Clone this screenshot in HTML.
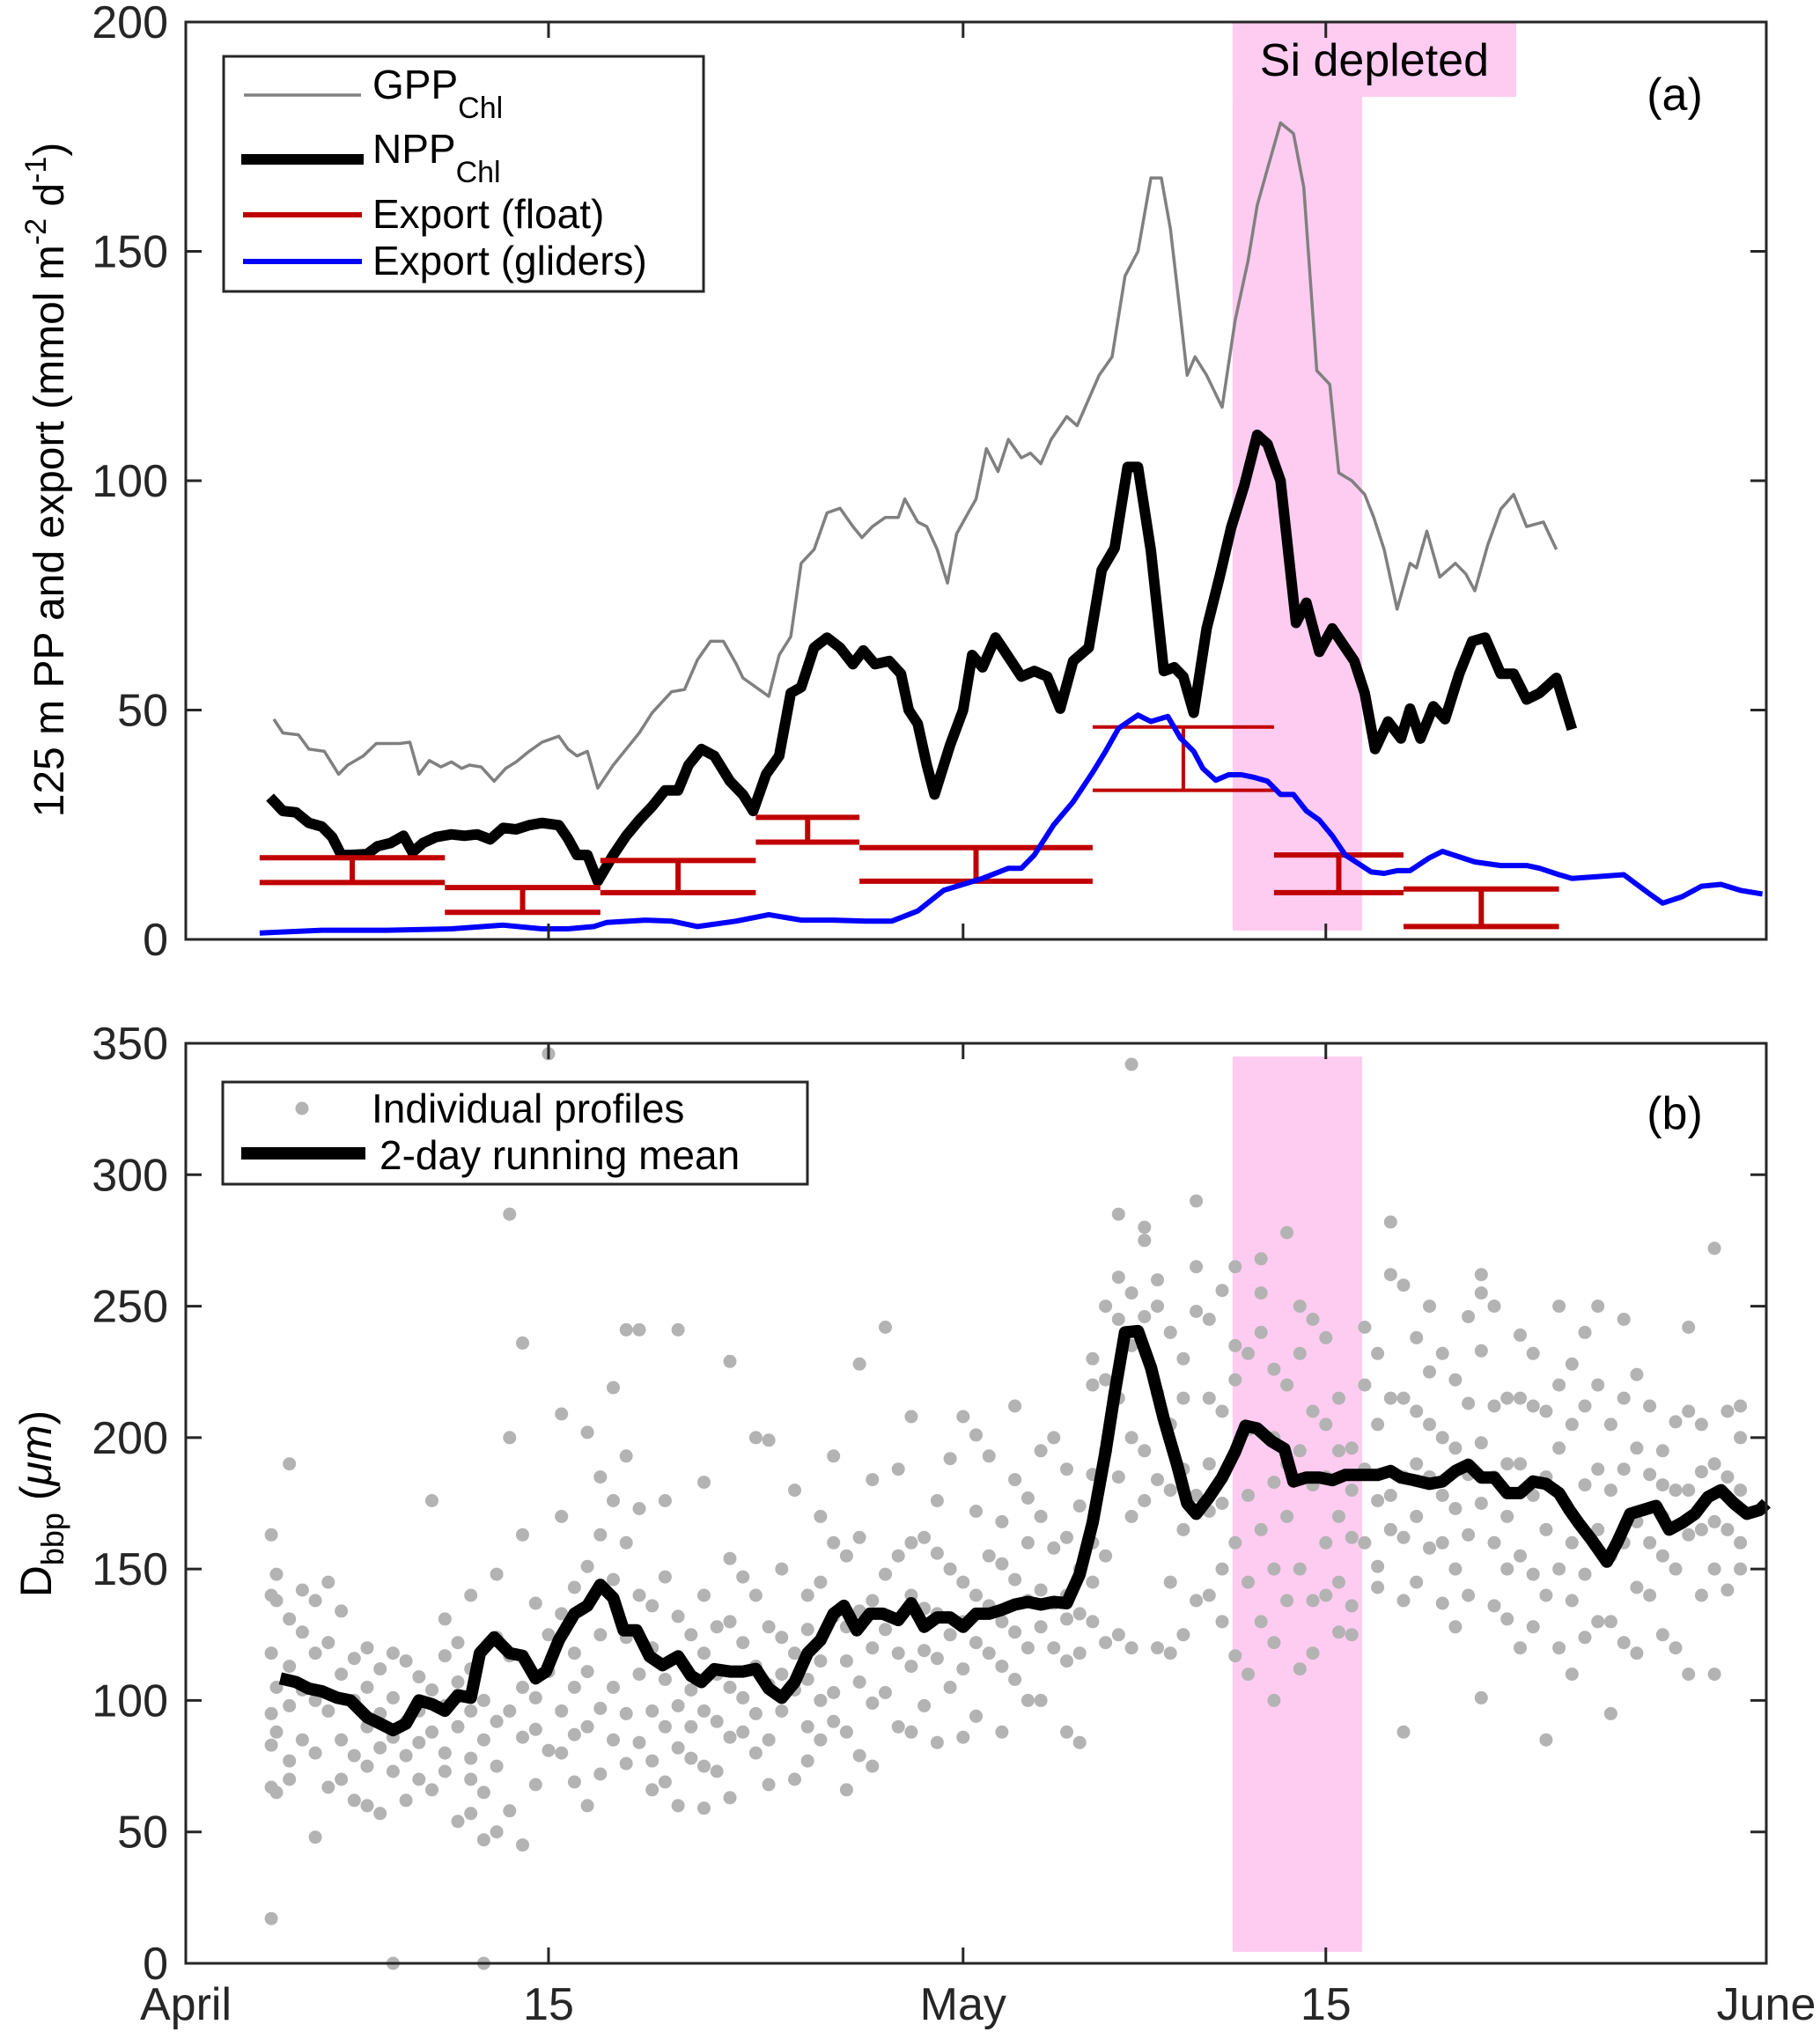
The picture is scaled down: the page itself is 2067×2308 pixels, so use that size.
<!DOCTYPE html>
<html><head><meta charset="utf-8"><style>
html,body{margin:0;padding:0;background:#fff;}
svg{display:block;font-family:"Liberation Sans",sans-serif;}
</style></head><body>
<svg id="chart" width="2067" height="2308" viewBox="0 0 2067 2308" xmlns="http://www.w3.org/2000/svg">
<rect x="0" y="0" width="2067" height="2308" fill="#fff"/>
<g id="top-bg"></g>
<g id="top-marks"></g>
<g id="bot-bg"></g>
<g id="bot-marks"></g>
<g id="axes"></g>
<text transform="translate(72,545) rotate(-90)" text-anchor="middle" font-size="48">125 m PP and export (mmol m<tspan font-size="34" dy="-20">-2</tspan><tspan dy="20"> d</tspan><tspan font-size="34" dy="-20">-1</tspan><tspan dy="20">)</tspan></text>
<text transform="translate(58,1708) rotate(-90)" text-anchor="middle" font-size="50">D<tspan font-size="36" dy="14">bbp</tspan><tspan dy="-14"> (</tspan><tspan font-style="italic">μm</tspan>)</text>
<text x="1902" y="125" text-anchor="middle" font-size="52">(a)</text>
<text x="1902" y="1282" text-anchor="middle" font-size="52">(b)</text>
<g>
<rect x="254" y="64" width="545" height="267" fill="#fff" stroke="#262626" stroke-width="3"/>
<line x1="277" y1="108" x2="410" y2="108" stroke="#808080" stroke-width="3.5"/>
<text x="423" y="112" font-size="46">GPP<tspan font-size="34" dy="22">Chl</tspan></text>
<line x1="274" y1="181" x2="413" y2="181" stroke="#000" stroke-width="12"/>
<text x="423" y="185" font-size="46">NPP<tspan font-size="34" dy="22">Chl</tspan></text>
<line x1="276" y1="244" x2="411" y2="244" stroke="#c00000" stroke-width="6"/>
<text x="423" y="259" font-size="46">Export (float)</text>
<line x1="276" y1="297" x2="411" y2="297" stroke="#0000ff" stroke-width="6"/>
<text x="423" y="312" font-size="46">Export (gliders)</text>
</g>
<g>
<rect x="253" y="1229" width="664" height="116" fill="#fff" stroke="#262626" stroke-width="3"/>
<circle cx="343" cy="1259" r="7.5" fill="#b3b3b3"/>
<text x="422" y="1275" font-size="46">Individual profiles</text>
<line x1="274" y1="1310" x2="415" y2="1310" stroke="#000" stroke-width="14"/>
<text x="431" y="1328" font-size="46">2-day running mean</text>
</g>
</svg>
<script>
// ---- data ----
const xTickDays = [0, 14, 30, 44, 61];
const xTickLabels = ["April", "15", "May", "15", "June"];
const yTicksTop = [0, 50, 100, 150, 200];
const yTicksBottom = [0, 50, 100, 150, 200, 250, 300, 350];
const siBand = [40.4, 45.4];

const gppDays = [3.4,3.75,4.35,4.75,5.35,5.9,6.25,6.85,7.35,8.25,8.65,9,9.4,9.85,10.25,10.65,10.95,11.4,11.9,12.35,12.75,13.25,13.75,14.4,14.75,15.1,15.5,15.9,16.5,17,17.5,18,18.75,19.25,19.75,20.25,20.75,21.25,21.5,22.5,22.9,23.35,23.75,24.25,24.75,25.25,25.75,26.1,26.5,27,27.5,27.75,28.25,28.6,29,29.4,29.75,30.1,30.5,30.9,31.35,31.75,32.25,32.6,33,33.4,34,34.4,35.25,35.75,36.25,36.75,37.25,37.65,38,38.35,38.65,38.95,39.4,40,40.5,41,41.35,41.75,42.25,42.75,43.15,43.65,44.15,44.5,45,45.5,45.85,46.25,46.75,47.25,47.5,47.9,48.4,49,49.4,49.75,50.25,50.75,51.25,51.75,52.4,52.9];
const gppVals = [48,45,44.6,41.5,41,36,38,40,42.7,42.7,43,36,39,37.6,38.7,37.3,38,37.6,34.5,37.3,38.7,41,43,44.3,41.5,40,41,33,38,41.5,45,49.4,54,54.5,61,65,65,60,57,53,62,66,82,85,93,94,90,87.6,90,92,92,96,91,90,85,77.7,88.4,92,96,107,102,109,105,106,103.7,109,114,112,123,127,144.6,150,166,166,155,138,123,127,123,116,135,148,160,168,178,175.7,164,124,121,101.7,100,97,92,85,72,82,81,89,79,82,79.7,76,86,93.8,97,90,91,85,85.3,88,79];

const nppDays = [3.25,3.75,4.25,4.75,5.25,5.65,6,6.35,7,7.4,7.9,8.4,8.75,9.15,9.65,10.25,10.75,11.25,11.75,12.25,12.75,13.25,13.75,14.4,14.75,15.1,15.5,15.9,16.5,17,17.5,18,18.5,19,19.4,19.9,20.4,21,21.5,21.9,22.4,22.9,23.35,23.75,24.25,24.75,25.25,25.75,26.15,26.6,27.15,27.6,27.9,28.25,28.6,28.9,29.5,30,30.35,30.75,31.25,31.75,32.25,32.75,33.25,33.75,34.25,34.85,35.35,35.85,36.35,36.75,37.25,37.75,38.15,38.5,38.9,39.4,39.9,40.35,40.85,41.35,41.75,42.25,42.85,43.25,43.75,44.25,44.75,45.1,45.5,45.9,46.4,46.9,47.25,47.65,48.15,48.6,49.15,49.65,50.15,50.75,51.25,51.75,52.25,52.9,53.5];
const nppVals = [31,28,27.7,25.4,24.6,22.3,18.4,18.4,18.6,20.3,21,22.6,19,21,22.3,22.9,22.6,22.9,21.8,24.3,24,24.9,25.4,24.9,22,18.4,18.4,12.7,18.4,22.6,26,29,32.5,32.5,38,41.5,40,34.5,31.6,28,36,40,53.7,55,63.6,65.8,63.6,60,63,60,60.7,57.9,50,47,38,31.6,42.4,50,62,59.3,65.8,61.6,57.3,58.5,57.3,50.3,60.7,63.6,80.5,85.3,103,103,84.7,58.5,59.3,57.3,49.4,67.8,79,89.8,98.9,110,108,100,69,73.4,62.7,67.8,63.6,60.7,53.7,41.5,47.5,43.8,50.3,43.8,50.8,48,57.9,65,65.8,57.9,57.9,52.3,53.7,57,45.8];

const gliderDays = [2.85,5.25,7.75,10.25,12.25,13.75,14.75,15.75,16.25,17.75,18.75,19.75,21.25,22.5,23.75,25,26.25,27.25,28.25,29.25,30,30.75,31.75,32.25,32.75,33.5,34.25,35,35.5,36,36.75,37.25,37.9,38.4,38.9,39.25,39.75,40.25,40.75,41.25,41.75,42.25,42.75,43.25,43.75,44.25,44.75,45.75,46.25,46.75,47.25,48,48.5,49.75,50.75,51.25,51.75,52.25,53,53.5,54.75,55.5,56,56.5,57,57.75,58.5,59.25,60,60.85];
const gliderVals = [1.4,2,2,2.3,3.1,2.3,2.3,2.8,3.7,4.2,4,2.8,4,5.4,4.2,4.2,4,4,6.2,10.7,12,13.3,15.5,15.5,18.4,25,30,36.4,41,46,48.9,47.5,48.6,43.8,41,37.3,34.7,35.9,35.9,35.3,34.5,31.6,31.6,28,26,22.6,18.4,14.7,14.4,15,15,17.8,19.2,16.9,16.1,16.1,16.1,15.5,14.1,13.3,13.8,14.1,12,9.9,7.9,9.3,11.6,12,10.7,9.9];

const floatStart = [2.85, 10, 16, 22, 26, 35, 42, 47];
const floatEnd = [10, 16, 22, 26, 35, 42, 47, 53];
const floatUpper = [17.8, 11.3, 17.2, 26.6, 20, 46.3, 18.4, 11];
const floatLower = [12.4, 5.9, 10.2, 21.2, 12.7, 32.5, 10.2, 2.8];

const meanDays = [3.65,4.25,4.75,5.25,5.85,6.35,7,7.5,8,8.5,9,9.5,10,10.5,11,11.35,11.9,12.5,13,13.5,13.9,14.4,15,15.5,16,16.5,16.9,17.4,17.9,18.4,19,19.5,19.9,20.4,21,21.5,22,22.5,23,23.5,24,24.5,25,25.4,25.9,26.4,26.9,27.5,28,28.5,29,29.5,30,30.5,31,31.5,32,32.5,33,33.5,34,34.5,35,35.5,35.85,36.25,36.75,37.25,37.75,38.25,38.65,39,39.5,40,40.5,40.9,41.35,41.9,42.4,42.75,43.25,43.75,44.25,44.75,45.5,46,46.5,46.9,47.4,48,48.5,49,49.5,50,50.5,51,51.5,52,52.5,53,53.4,53.75,54.25,54.85,55.25,55.75,56.25,56.75,57.25,57.75,58.25,58.75,59.25,59.75,60.25,60.75,61];
const meanVals = [108.4,107,104.5,103.5,101,100,93.6,91.2,88.7,91.2,100,98.6,96.1,102,101,118,124,118,117,108.4,111,123,133,136,144,139,126.7,126.7,116.8,113.4,116.8,109.4,107,111.9,111,111,112,104.5,101,107,118,123,133,136,126.7,133,133,130.6,137,128,131.6,131.6,128,133,133,134.5,136.5,137.5,136.5,137.5,137,148,167.6,194.7,216.8,240,240.5,226.7,207,190,175,171,177.4,184.8,194.7,204.5,203.5,198.6,195.7,183.3,184.8,184.8,183.8,185.8,185.8,185.8,187.3,184.8,183.8,182.4,183.3,187.3,189.7,184.8,184.8,178.9,178.9,183.3,182.4,178.9,172.5,167.6,161.2,152.8,160.2,171,172.5,174,165,167.6,171,177.4,180,175,171,172.5,175];

const profileDays = [3.3,3.3,3.3,3.3,3.3,3.3,3.3,3.5,3.5,3.5,3.5,3.5,4,4,4,4,4,4,4.5,4.5,4.5,4.5,5,5,5,5,5,5.5,5.5,5.5,5.5,6,6,6,6,6.5,6.5,6.5,6.5,7,7,7,7,7,7.5,7.5,7.5,7.5,8,8,8,8,8,8.5,8.5,8.5,8.5,9,9,9,9,9.5,9.5,9.5,9.5,10,10,10,10,10,10.5,10.5,10.5,10.5,11,11,11,11,11,11,11.5,11.5,11.5,11.5,11.5,12,12,12,12,12,12.5,12.5,12.5,12.5,12.5,13,13,13,13,13,13.5,13.5,13.5,13.5,14,14,14,14,14.5,14.5,14.5,14.5,14.5,15,15,15,15,15,15.5,15.5,15.5,15.5,15.5,16,16,16,16,16,16.5,16.5,16.5,16.5,16.5,17,17,17,17,17,17,17.5,17.5,17.5,17.5,17.5,18,18,18,18,18,18.5,18.5,18.5,18.5,18.5,19,19,19,19,19,19.5,19.5,19.5,19.5,20,20,20,20,20,20,20.5,20.5,20.5,20.5,21,21,21,21,21,21,21.5,21.5,21.5,21.5,22,22,22,22,22,22.5,22.5,22.5,22.5,22.5,23,23,23,23,23.5,23.5,23.5,23.5,24,24,24,24,24,24.5,24.5,24.5,24.5,24.5,25,25,25,25,25,25.5,25.5,25.5,25.5,25.5,26,26,26,26,26,26.5,26.5,26.5,26.5,26.5,27,27,27,27,27.5,27.5,27.5,27.5,28,28,28,28,28,28.5,28.5,28.5,28.5,29,29,29,29,29,29.5,29.5,29.5,29.5,30,30,30,30,30,30.5,30.5,30.5,30.5,30.5,31,31,31,31,31.5,31.5,31.5,31.5,31.5,32,32,32,32,32,32.5,32.5,32.5,32.5,32.5,33,33,33,33,33,33.5,33.5,33.5,33.5,34,34,34,34,34,34,34.5,34.5,34.5,34.5,34.5,35,35,35,35,35,35,35.5,35.5,35.5,35.5,35.5,36,36,36,36,36,36,36.5,36.5,36.5,36.5,36.5,36.5,37,37,37,37,37,37.5,37.5,37.5,37.5,37.5,38,38,38,38,38,38.5,38.5,38.5,38.5,38.5,39,39,39,39,39,39.5,39.5,39.5,39.5,39.5,40,40,40,40,40,40.5,40.5,40.5,40.5,40.5,41,41,41,41,41,41.5,41.5,41.5,41.5,41.5,42,42,42,42,42,42,42.5,42.5,42.5,42.5,42.5,43,43,43,43,43,43.5,43.5,43.5,43.5,43.5,44,44,44,44,44,44.5,44.5,44.5,44.5,44.5,45,45,45,45,45,45.5,45.5,45.5,45.5,46,46,46,46,46,46.5,46.5,46.5,46.5,46.5,47,47,47,47,47,47,47.5,47.5,47.5,47.5,47.5,48,48,48,48,48,48.5,48.5,48.5,48.5,48.5,49,49,49,49,49,49.5,49.5,49.5,49.5,49.5,50,50,50,50,50,50,50.5,50.5,50.5,50.5,50.5,51,51,51,51,51,51.5,51.5,51.5,51.5,51.5,52,52,52,52,52,52.5,52.5,52.5,52.5,52.5,53,53,53,53,53,53.5,53.5,53.5,53.5,53.5,54,54,54,54,54,54.5,54.5,54.5,54.5,54.5,55,55,55,55,55,55.5,55.5,55.5,55.5,55.5,56,56,56,56,56,56.5,56.5,56.5,56.5,57,57,57,57,57,57.5,57.5,57.5,57.5,58,58,58,58,58,58.5,58.5,58.5,58.5,59,59,59,59,59,59.5,59.5,59.5,59.5,60,60,60,60,60];
const profileVals = [163,140,118,95,83,67,17,148,138,105,88,65,190,131,113,98,77,70,142,126,104,85,138,118,100,80,48,145,122,96,67,134,110,85,70,116,100,79,62,120,105,90,75,60,112,95,82,57,118,101,86,73,0,115,92,79,62,109,96,84,70,176,104,88,66,131,117,98,80,73,122,107,90,54,140,112,96,78,70,57,100,85,65,47,0,148,124,92,75,50,285,200,117,96,58,236,163,105,86,45,137,101,89,68,346,125,111,81,209,170,133,96,80,143,118,105,87,69,202,151,111,90,60,185,163,125,97,72,219,176,146,105,85,241,193,160,124,95,76,241,173,140,110,84,136,120,96,77,66,176,147,108,90,69,241,132,98,82,60,125,104,90,78,183,140,118,96,75,59,128,110,92,73,229,154,130,105,86,63,147,122,101,88,200,140,113,95,80,199,128,106,85,68,150,124,110,96,180,118,104,70,140,127,108,90,77,170,145,115,100,85,193,160,132,103,92,155,128,115,88,66,228,162,134,107,79,184,138,120,99,75,242,148,127,103,188,155,118,90,208,160,140,113,88,162,135,119,98,176,156,133,116,84,192,150,125,105,208,145,130,112,86,201,172,140,122,94,193,155,136,118,168,152,130,113,88,212,184,146,126,108,177,160,138,120,100,195,170,142,128,100,200,158,137,120,188,162,140,131,115,88,174,150,133,118,84,230,220,186,160,145,130,250,222,195,155,122,285,261,245,215,185,125,342,255,235,200,170,120,280,275,246,195,176,260,250,217,184,120,240,205,180,145,118,230,215,188,165,125,290,265,248,178,138,245,215,190,172,140,256,210,175,150,130,265,235,222,160,117,232,203,178,145,110,268,255,240,165,130,226,200,183,150,122,100,278,220,190,170,138,250,232,195,150,112,245,210,182,138,118,238,205,185,160,140,215,195,170,145,126,196,180,162,136,125,242,220,188,160,232,205,176,151,143,282,262,215,178,165,258,215,185,162,138,88,238,210,190,170,145,250,225,205,185,158,232,200,178,160,137,222,196,173,150,128,246,213,186,163,140,262,255,233,198,175,101,250,212,185,160,136,215,190,170,150,131,239,215,190,155,120,232,212,178,148,128,210,185,165,140,85,250,220,196,150,120,228,205,160,138,110,240,212,182,148,124,250,220,188,165,130,205,180,155,130,95,245,215,188,160,122,224,196,168,143,118,212,186,160,140,195,182,170,155,125,206,180,150,120,242,210,180,163,110,205,187,165,140,272,190,168,150,110,210,185,165,142,212,200,180,160,150];

// ---- geometry ----
const X0 = 211, X1 = 2006, DAYS = 61;
const TOP = {y0: 1067, y1: 25, max: 200};
const BOT = {y0: 2230, y1: 1185, max: 350};
const NS = "http://www.w3.org/2000/svg";
function xs(d){ return X0 + (X1 - X0) * d / DAYS; }
function ysTop(v){ return TOP.y0 - (TOP.y0 - TOP.y1) * v / TOP.max; }
function ysBot(v){ return BOT.y0 - (BOT.y0 - BOT.y1) * v / BOT.max; }
function mk(tag, attrs, parent){
  const e = document.createElementNS(NS, tag);
  for (const k in attrs) e.setAttribute(k, attrs[k]);
  parent.appendChild(e);
  return e;
}
function pathFrom(days, vals, ys){
  return days.map((d,i)=>(i?"L":"M")+xs(d).toFixed(1)+","+ys(vals[i]).toFixed(1)).join(" ");
}
const topBg = document.getElementById("top-bg");
const topMarks = document.getElementById("top-marks");
const botBg = document.getElementById("bot-bg");
const botMarks = document.getElementById("bot-marks");
const axes = document.getElementById("axes");

let band = mk("rect", {x: xs(siBand[0]), y: 25, width: xs(siBand[1]) - xs(siBand[0]), height: 1032, fill: "#ffccf1"}, topBg);


let lblBox = mk("rect", {x: xs(siBand[0]), y: 25, width: 1722 - xs(siBand[0]), height: 85, fill: "#ffccf1"}, topBg);


let lbl = mk("text", {x: (xs(siBand[0]) + 1722) / 2, y: 86, "text-anchor": "middle", "font-size": "52"}, topBg);
lbl.textContent = "Si depleted";


let band2 = mk("rect", {x: xs(siBand[0]), y: 1200, width: xs(siBand[1]) - xs(siBand[0]), height: 1017, fill: "#ffccf1"}, botBg);



let g = mk("path", {d: pathFrom(gppDays, gppVals, ysTop), fill: "none", stroke: "#808080", "stroke-width": 3.5, "stroke-linejoin": "round"}, topMarks);


let n = mk("path", {d: pathFrom(nppDays, nppVals, ysTop), fill: "none", stroke: "#000", "stroke-width": 12, "stroke-linejoin": "round"}, topMarks);


floatStart.forEach((s, i) => {
  const xa = xs(s), xb = xs(floatEnd[i]), xm = (xa + xb) / 2;
  const yu = ysTop(floatUpper[i]), yl = ysTop(floatLower[i]);
  const eb = mk("path", {d: `M${xa},${yu} L${xb},${yu} M${xa},${yl} L${xb},${yl} M${xm},${yu} L${xm},${yl}`, fill: "none", stroke: "#c00000", "stroke-width": i === 5 ? 4 : 6}, topMarks);
  
  
});
let b = mk("path", {d: pathFrom(gliderDays, gliderVals, ysTop), fill: "none", stroke: "#0000ff", "stroke-width": 6, "stroke-linejoin": "round"}, topMarks);



profileDays.forEach((d, i) => {
  const c = mk("circle", {cx: xs(d).toFixed(1), cy: ysBot(profileVals[i]).toFixed(1), r: 7.5, fill: "#b3b3b3"}, botMarks);
  
  
});
let m = mk("path", {d: pathFrom(meanDays, meanVals, ysBot), fill: "none", stroke: "#000", "stroke-width": 14, "stroke-linejoin": "round"}, botMarks);



function panel(P, ticks, ys, showX, name){
  const box = mk("rect", {x: X0, y: P.y1, width: X1 - X0, height: P.y0 - P.y1, fill: "none", stroke: "#262626", "stroke-width": 3}, axes);
  
  
  ticks.forEach(t => {
    const y = ys(t);
    const tk = mk("path", {d: `M${X0},${y} L${X0+18},${y} M${X1},${y} L${X1-18},${y}`, stroke: "#262626", "stroke-width": 3}, axes);
    
    
    const tl = mk("text", {x: 191, y: y + 18, "text-anchor": "end", "font-size": "52", fill: "#262626"}, axes);
    tl.textContent = String(t);
    
    
  });
  xTickDays.forEach((d, i) => {
    const x = xs(d);
    const tk = mk("path", {d: `M${x},${P.y0} L${x},${P.y0-18} M${x},${P.y1} L${x},${P.y1+18}`, stroke: "#262626", "stroke-width": 3}, axes);
    
    
    if (showX) {
      const tl = mk("text", {x: x, y: 2294, "text-anchor": "middle", "font-size": "52", fill: "#262626"}, axes);
      tl.textContent = xTickLabels[i];
      
      
    }
  });
}
panel(TOP, yTicksTop, ysTop, false, 'top');
panel(BOT, yTicksBottom, ysBot, true, 'bottom');
</script>
</body></html>
